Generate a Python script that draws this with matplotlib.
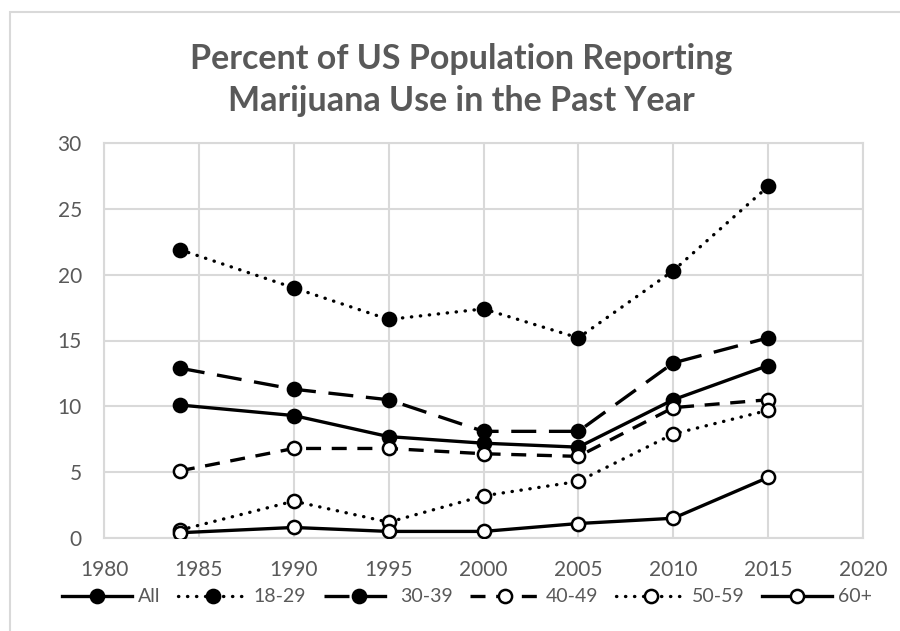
import numpy as np
import matplotlib
matplotlib.use("Agg")
import matplotlib.pyplot as plt
from matplotlib.patches import Rectangle

plt.rcParams['font.family'] = ['Lato', 'DejaVu Sans']

years = [1984, 1990, 1995, 2000, 2005, 2010, 2015]
all_ages = [10.1, 9.3, 7.7, 7.2, 6.9, 10.5, 13.1]
age_18_29 = [21.9, 19.0, 16.6, 17.4, 15.2, 20.3, 26.7]
age_30_39 = [12.9, 11.3, 10.5, 8.1, 8.1, 13.3, 15.2]
age_40_49 = [5.1, 6.8, 6.8, 6.4, 6.2, 9.9, 10.5]
age_50_59 = [0.6, 2.8, 1.2, 3.2, 4.3, 7.9, 9.7]
age_60_up = [0.4, 0.8, 0.5, 0.5, 1.1, 1.5, 4.6]

labels = ["All", "18-29", "30-39", "40-49", "50-59", "60+"]
x_ticks = [1980, 1985, 1990, 1995, 2000, 2005, 2010, 2015, 2020]
y_ticks = [0, 5, 10, 15, 20, 25, 30]

text_color = "#595959"
grid_color = "#d9d9d9"

fig = plt.figure(figsize=(9, 6.31), dpi=100)
ax = fig.add_axes([104 / 900, 1 - 538 / 631, (863 - 104) / 900, (538 - 143) / 631])

# chart area border (cropped on right and bottom)
fig.patches.append(Rectangle((10 / 900, -0.1), 1.2, 1 - 12 / 631 + 0.1,
                             transform=fig.transFigure, fill=False,
                             edgecolor=grid_color, linewidth=1.5))

dot = (0, (0.1, 2.6))
long_dash = (0, (7.5, 3.8))
dash = (0, (4.5, 3.2))

styles = [
    dict(linestyle="-", mfc="black"),
    dict(linestyle=dot, mfc="black", dash_capstyle="round"),
    dict(linestyle=long_dash, mfc="black"),
    dict(linestyle=dash, mfc="white"),
    dict(linestyle=dot, mfc="white", dash_capstyle="round"),
    dict(linestyle="-", mfc="white"),
]
series = [all_ages, age_18_29, age_30_39, age_40_49, age_50_59, age_60_up]

for vals, lab, st in zip(series, labels, styles):
    ax.plot(years, vals, color="black", linewidth=2.4, marker="o",
            markersize=9.5, mec="black", mew=1.8, label=lab, zorder=3, **st)

ax.set_xlim(1980, 2020)
ax.set_ylim(0, 30)
ax.set_xticks(x_ticks)
ax.set_yticks(y_ticks)
ax.grid(True, color=grid_color, linewidth=1.5, zorder=0)
ax.set_axisbelow(True)
for sp in ax.spines.values():
    sp.set_color(grid_color)
    sp.set_linewidth(1.5)
ax.tick_params(length=0, labelsize=15, colors=text_color)
ax.tick_params(axis="y", pad=16)
ax.tick_params(axis="x", pad=16)

fig.text(461 / 900, 1 - 80 / 631,
         "Percent of US Population Reporting\nMarijuana Use in the Past Year",
         ha="center", va="center", fontsize=24.5, fontweight="bold",
         color=text_color, linespacing=1.4)

fig.legend(loc="center", bbox_to_anchor=(467 / 900, 1 - 597 / 631), ncol=6,
           frameon=False, fontsize=14, handlelength=3.6, columnspacing=0.9,
           handletextpad=0.3, labelcolor=text_color)

fig.savefig("out.png", dpi=100)
